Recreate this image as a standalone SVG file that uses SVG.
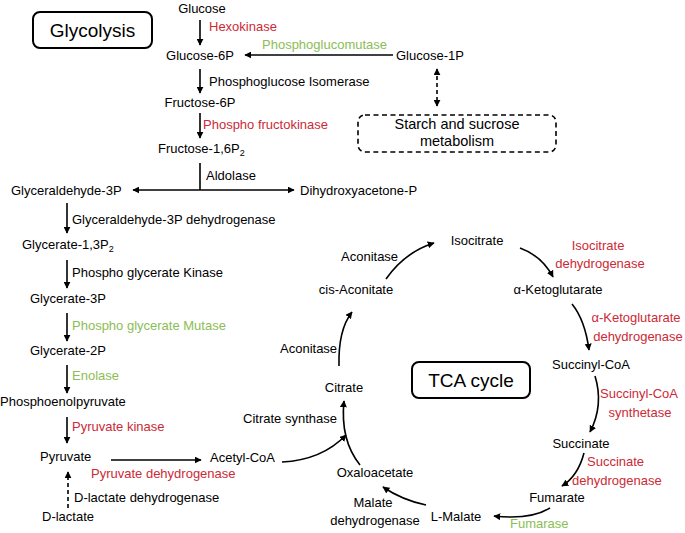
<svg xmlns="http://www.w3.org/2000/svg" width="685" height="533" viewBox="0 0 685 533">
<defs>
<marker id="ah" viewBox="0 0 10 10" refX="9" refY="5" markerWidth="7" markerHeight="7" markerUnits="userSpaceOnUse" orient="auto-start-reverse"><path d="M0,0 L10,5 L0,10 z" fill="#000"/></marker>
</defs>
<style>
text{font-family:"Liberation Sans",Arial,sans-serif;font-size:13px;fill:#000}
.r{fill:#cc2a36}
.g{fill:#8cbd55}
.m{text-anchor:middle}
.big{font-size:19px}
.mid{font-size:14.5px}
.ln{stroke:#000;stroke-width:1.6;fill:none}
.ar{marker-end:url(#ah)}
.dash{stroke-dasharray:4,3}
.sub{font-size:9px}
</style>
<rect width="685" height="533" fill="#fff"/>
<g id="glycolysis-box"><rect x="33" y="12" width="119" height="36" rx="7" fill="none" stroke="#000" stroke-width="2"/><text class="big m" x="92.5" y="37">Glycolysis</text></g>
<g id="tca-box"><rect x="412" y="362" width="118" height="36" rx="7" fill="none" stroke="#000" stroke-width="2"/><text class="big m" x="471" y="387">TCA cycle</text></g>
<g id="starch"><rect x="358" y="115" width="198" height="37" rx="7" fill="none" stroke="#000" stroke-width="1.6" stroke-dasharray="5,3.5"/><text class="m mid" x="457" y="129">Starch and sucrose</text><text class="m mid" x="457" y="146">metabolism</text></g>
<g id="glucose"><text class="m" x="202" y="13">Glucose</text></g>
<g id="glucose-6p"><text class="m" x="200" y="60">Glucose-6P</text></g>
<g id="glucose-1p"><text x="396" y="60">Glucose-1P</text></g>
<g id="fructose-6p"><text class="m" x="200" y="107">Fructose-6P</text></g>
<g id="fructose-16p2"><text x="158" y="153">Fructose-1,6P<tspan class="sub" dy="3">2</tspan></text></g>
<g id="gap"><text x="11" y="195">Glyceraldehyde-3P</text></g>
<g id="dhap"><text x="300" y="195">Dihydroxyacetone-P</text></g>
<g id="g13p2"><text x="22" y="249">Glycerate-1,3P<tspan class="sub" dy="3">2</tspan></text></g>
<g id="g3p"><text x="30" y="303">Glycerate-3P</text></g>
<g id="g2p"><text x="30" y="355">Glycerate-2P</text></g>
<g id="pep"><text x="0" y="406">Phosphoenolpyruvate</text></g>
<g id="pyruvate"><text x="40" y="461">Pyruvate</text></g>
<g id="dlactate"><text x="42" y="521">D-lactate</text></g>
<g id="acetylcoa"><text x="210" y="462">Acetyl-CoA</text></g>
<g id="citrate"><text class="m" x="344" y="392">Citrate</text></g>
<g id="cis-aconitate"><text class="m" x="356" y="294">cis-Aconitate</text></g>
<g id="isocitrate"><text class="m" x="477" y="245">Isocitrate</text></g>
<g id="akg"><text class="m" x="558" y="294">α-Ketoglutarate</text></g>
<g id="succinylcoa"><text class="m" x="591" y="369">Succinyl-CoA</text></g>
<g id="succinate"><text class="m" x="581" y="448">Succinate</text></g>
<g id="fumarate"><text class="m" x="557" y="502">Fumarate</text></g>
<g id="lmalate"><text class="m" x="456" y="521">L-Malate</text></g>
<g id="oxaloacetate"><text class="m" x="375" y="477">Oxaloacetate</text></g>
<g id="enzymes">
<text class="r" x="209" y="31">Hexokinase</text>
<text class="g" x="262" y="49">Phosphoglucomutase</text>
<text x="209" y="86">Phosphoglucose Isomerase</text>
<text class="r" x="203" y="129">Phospho fructokinase</text>
<text x="206" y="180">Aldolase</text>
<text x="72" y="224">Glyceraldehyde-3P dehydrogenase</text>
<text x="72" y="277">Phospho glycerate Kinase</text>
<text class="g" x="72" y="330">Phospho glycerate Mutase</text>
<text class="g" x="72" y="380">Enolase</text>
<text class="r" x="72" y="431">Pyruvate kinase</text>
<text class="r" x="91" y="478">Pyruvate dehydrogenase</text>
<text x="74" y="502">D-lactate dehydrogenase</text>
<text x="243" y="423">Citrate synthase</text>
<text x="280" y="353">Aconitase</text>
<text x="341" y="261">Aconitase</text>
<text class="r m" x="598" y="250">Isocitrate</text>
<text class="r m" x="600" y="268">dehydrogenase</text>
<text class="r m" x="636" y="322">α-Ketoglutarate</text>
<text class="r m" x="638" y="341">dehydrogenase</text>
<text class="r m" x="639" y="398">Succinyl-CoA</text>
<text class="r m" x="640" y="417">synthetase</text>
<text class="r" x="587" y="466">Succinate</text>
<text class="r" x="572" y="485">dehydrogenase</text>
<text class="g" x="510" y="528">Fumarase</text>
<text class="m" x="373" y="507">Malate</text>
<text class="m" x="375" y="525">dehydrogenase</text>
</g>
<g id="connectors">
<line class="ln ar" x1="200" y1="20" x2="200" y2="45"/>
<line class="ln ar" x1="393" y1="55" x2="245" y2="55"/>
<line class="ln dash" x1="437" y1="69" x2="437" y2="106" marker-start="url(#ah)" marker-end="url(#ah)"/>
<line class="ln ar" x1="200" y1="69" x2="200" y2="93"/>
<line class="ln ar" x1="200" y1="113" x2="200" y2="138"/>
<line class="ln" x1="200" y1="163" x2="200" y2="190"/>
<line class="ln" x1="133" y1="190" x2="294" y2="190" marker-start="url(#ah)" marker-end="url(#ah)"/>
<line class="ln ar" x1="67" y1="203" x2="67" y2="233"/>
<line class="ln ar" x1="67" y1="260" x2="67" y2="288"/>
<line class="ln ar" x1="67" y1="313" x2="67" y2="341"/>
<line class="ln ar" x1="67" y1="365" x2="67" y2="393"/>
<line class="ln ar" x1="67" y1="417" x2="67" y2="443"/>
<line class="ln ar" x1="111" y1="460" x2="201" y2="460"/>
<line class="ln dash ar" x1="68" y1="508" x2="68" y2="472"/>
<path class="ln ar" d="M282,462 Q322,460 346,435"/>
<path class="ln ar" d="M360,465 Q340,440 344,401"/>
<path class="ln ar" d="M339,366 Q338,330 352,312"/>
<path class="ln ar" d="M386,279 Q405,252 434,243"/>
<path class="ln ar" d="M520,248 Q542,256 553,277"/>
<path class="ln ar" d="M572,304 Q585,320 589,350"/>
<path class="ln ar" d="M595,376 Q604,405 590,432"/>
<path class="ln ar" d="M584,453 Q578,476 562,486"/>
<path class="ln ar" d="M550,508 Q530,520 494,516"/>
<path class="ln ar" d="M426,505 Q402,500 383,487"/>
</g>
</svg>
